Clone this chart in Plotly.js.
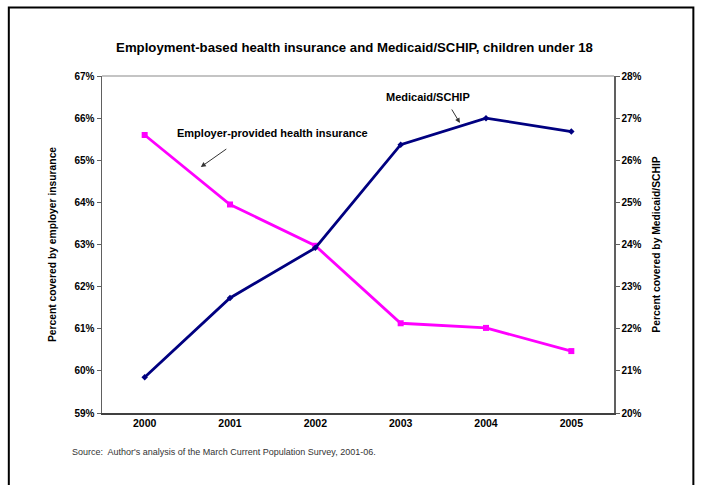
<!DOCTYPE html>
<html>
<head>
<meta charset="utf-8">
<script src="https://cdn.plot.ly/plotly-3.0.1.min.js"></script>
<style>
html,body{margin:0;padding:0;background:#fff;}
#chart{width:702px;height:485px;}
</style>
</head>
<body>
<div id="chart"></div>
<script>
var years = ['2000','2001','2002','2003','2004','2005'];
var employerPct = [65.6, 63.95, 62.97, 61.13, 61.02, 60.47];
var medicaidPct = [20.85, 22.73, 23.92, 26.37, 27.0, 26.68];
var leftTicks = [59,60,61,62,63,64,65,66,67];
var rightTicks = [20,21,22,23,24,25,26,27,28];

var FONT = 'Liberation Sans, Arial, sans-serif';

var traces = [
  {
    x: years, y: employerPct, type: 'scatter', mode: 'lines+markers',
    name: 'Employer-provided health insurance',
    line: {color: '#FF00FF', width: 2.8},
    marker: {color: '#FF00FF', size: 6, symbol: 'square'},
    yaxis: 'y'
  },
  {
    x: years, y: medicaidPct, type: 'scatter', mode: 'lines+markers',
    name: 'Medicaid/SCHIP',
    line: {color: '#000080', width: 2.8},
    marker: {color: '#000080', size: 5, symbol: 'diamond'},
    yaxis: 'y2'
  }
];

var layout = {
  width: 702, height: 485,
  margin: {l: 102, r: 88, t: 76, b: 72},
  paper_bgcolor: '#fff', plot_bgcolor: '#fff',
  showlegend: false,
  font: {family: FONT, color: '#000'},
  title: {
    text: '<b>Employment-based health insurance and Medicaid/SCHIP, children under 18</b>',
    font: {family: FONT, size: 13.2, color: '#000'},
    x: 0.505, xanchor: 'center', y: 0.903, yanchor: 'middle'
  },
  xaxis: {
    type: 'category', range: [-0.5, 5.5],
    showgrid: false, zeroline: false,
    showline: true, linecolor: '#404040', linewidth: 1.5,
    ticks: '', tickfont: {family: FONT, size: 10.5, color: '#000'},
    tickprefix: '<b>', ticksuffix: '</b>'
  },
  yaxis: {
    range: [59, 67], tickvals: leftTicks,
    ticktext: leftTicks.map(function(v){return '<b>' + v + '%</b>';}),
    showgrid: false, zeroline: false,
    showline: true, linecolor: '#606060', linewidth: 1.5,
    ticks: 'outside', ticklen: 4, tickcolor: '#606060',
    tickfont: {family: FONT, size: 10, color: '#000'},
    title: {text: '<b>Percent covered by employer insurance</b>', font: {family: FONT, size: 10.3, color: '#000'}, standoff: 16}
  },
  yaxis2: {
    range: [20, 28], tickvals: rightTicks,
    ticktext: rightTicks.map(function(v){return '<b>' + v + '%</b>';}),
    overlaying: 'y', side: 'right',
    showgrid: false, zeroline: false,
    showline: true, linecolor: '#606060', linewidth: 1.5,
    ticks: 'outside', ticklen: 4, tickcolor: '#606060',
    tickfont: {family: FONT, size: 10, color: '#000'},
    title: {text: '<b>Percent covered by Medicaid/SCHIP</b>', font: {family: FONT, size: 10.3, color: '#000'}, standoff: 12}
  },
  shapes: [
    {type: 'line', xref: 'paper', yref: 'paper', x0: 0, x1: 1, y0: 1, y1: 1,
     line: {color: '#b0b0b0', width: 1.5}},
    {type: 'rect', xref: 'paper', yref: 'paper', x0: -0.182, x1: 1.155, y0: -0.25, y1: 1.203,
     line: {color: '#000', width: 2}, fillcolor: 'rgba(0,0,0,0)'}
  ],
  annotations: [
    {xref: 'paper', yref: 'paper', x: 0.637, y: 0.938, xanchor: 'center', yanchor: 'middle',
     text: '<b>Medicaid/SCHIP</b>',
     showarrow: false, font: {family: FONT, size: 11, color: '#000'}},
    {xref: 'paper', yref: 'paper', x: 0.699, y: 0.8605, ax: -9, ay: -15, text: '',
     showarrow: true, arrowhead: 2, arrowsize: 1, arrowwidth: 1, arrowcolor: '#333'},
    {xref: 'paper', yref: 'paper', x: 0.333, y: 0.831, xanchor: 'center', yanchor: 'middle',
     text: '<b>Employer-provided health insurance</b>',
     showarrow: false, font: {family: FONT, size: 11, color: '#000'}},
    {xref: 'paper', yref: 'paper', x: 0.193, y: 0.73, ax: 27, ay: -19, text: '',
     showarrow: true, arrowhead: 2, arrowsize: 1, arrowwidth: 1, arrowcolor: '#333'},
    {xref: 'paper', yref: 'paper', x: -0.063, y: -0.115, xanchor: 'left', yanchor: 'middle',
     text: 'Source:  Author\'s analysis of the March Current Population Survey, 2001-06.',
     showarrow: false, font: {family: FONT, size: 9, color: '#333'}}
  ]
};

Plotly.newPlot('chart', traces, layout, {displayModeBar: false, staticPlot: true});
</script>
</body>
</html>
